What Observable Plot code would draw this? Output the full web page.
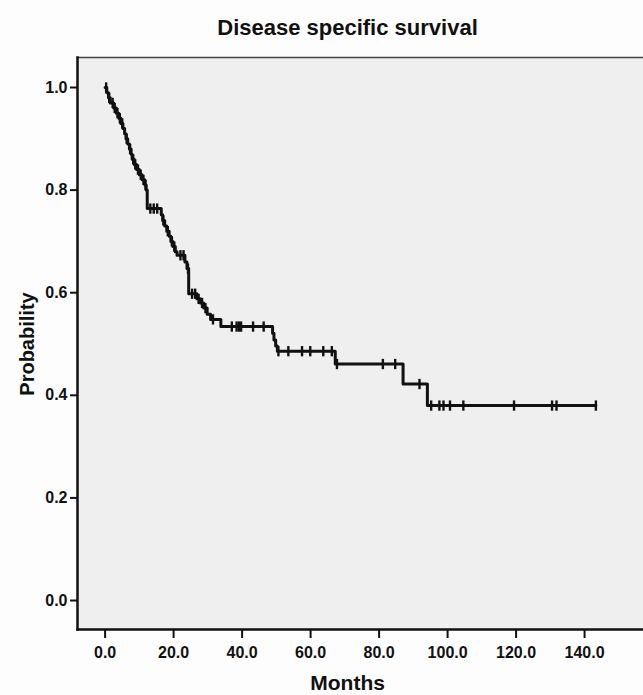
<!DOCTYPE html>
<html>
<head>
<meta charset="utf-8">
<script src="https://cdn.jsdelivr.net/npm/d3@7"></script>
<script src="https://cdn.jsdelivr.net/npm/@observablehq/plot@0.6"></script>
<style>
  html, body { margin: 0; padding: 0; background: #fdfdfd; }
  #title { height: 50px; width: 591px; padding-left: 52px; text-align: center; font-family: "Liberation Sans", Arial, sans-serif; font-weight: bold; font-size: 22px; line-height: 56px; color: #111; }
  #chart svg { display: block; }
</style>
</head>
<body>
<div id="title">Disease specific survival</div>
<div id="chart"></div>
<script>
// Kaplan-Meier event steps: time (months) and survival after the step
const stepTimes = [0, 0.5, 1.0, 1.5, 2.5, 3.3, 4.0, 4.6, 5.2, 5.7, 6.1, 6.6, 7.1, 7.6, 7.9, 8.5, 9.2, 10.0, 10.8, 11.6, 12.0, 12.3,
  16.4, 16.8, 17.4, 18.0, 18.7, 19.2, 19.8, 20.5, 21.0, 23.3, 23.9, 24.4, 26.8, 27.8, 28.8, 29.8, 30.8, 33.8,
  48.9, 49.3, 49.8, 50.3, 67.2, 87.0, 94.1];
const stepSurv = [1.0, 0.99, 0.98, 0.97, 0.96, 0.95, 0.94, 0.93, 0.92, 0.91, 0.90, 0.89, 0.88, 0.87, 0.86, 0.85, 0.84, 0.83, 0.82, 0.81, 0.80, 0.764,
  0.752, 0.741, 0.730, 0.720, 0.710, 0.700, 0.690, 0.680, 0.673, 0.660, 0.647, 0.598, 0.588, 0.580, 0.570, 0.558, 0.548, 0.534,
  0.521, 0.508, 0.496, 0.486, 0.461, 0.422, 0.380];
const lastTime = 143.3;
// Censored observations (months)
const censorTimes = [0.3, 1.2, 2.2, 2.8, 3.6, 4.3, 5.0, 6.3, 7.3, 8.2, 8.8, 9.6, 10.4, 11.2, 11.8,
  13.2, 14.2, 15.2, 17.0, 18.3, 19.5, 20.2, 22.0, 22.9, 24.2, 25.4, 26.3, 27.3, 28.3, 29.3, 31.5,
  37.0, 38.4, 39.1, 39.7, 43.2, 46.3, 50.6, 53.5, 57.5, 59.9, 63.7, 66.2, 67.7, 81.1, 84.7, 91.8,
  95.2, 97.6, 98.8, 100.7, 104.6, 119.4, 130.5, 131.8, 143.3];
const xTicks = [0, 20, 40, 60, 80, 100, 120, 140];
const yTicks = [0, 0.2, 0.4, 0.6, 0.8, 1.0];

const curve = stepTimes.map((t, i) => ({t, s: stepSurv[i]}));
curve.push({t: lastTime, s: stepSurv[stepSurv.length - 1]});
const survAt = (t) => { let s = 1; for (let i = 0; i < stepTimes.length; i++) if (stepTimes[i] <= t) s = stepSurv[i]; return s; };
const censors = censorTimes.map(t => ({t, s: survAt(t)}));

const vbar = { draw(context, size) { const h = Math.sqrt(size); context.moveTo(0, -h); context.lineTo(0, h); } };

const fmt = d3.format(".1f");
const plot = Plot.plot({
  width: 643,
  height: 645,
  marginLeft: 77,
  marginRight: 0,
  marginTop: 7,
  marginBottom: 66,
  style: { fontFamily: "'Liberation Sans', Arial, sans-serif", fontWeight: "bold", fontSize: "16px", color: "#111", background: "transparent" },
  x: { domain: [-8.06, 157.2], ticks: xTicks, tickFormat: fmt, label: null },
  y: { domain: [-0.0565, 1.0585], ticks: yTicks, tickFormat: fmt, label: null },
  marks: [
    Plot.frame({ fill: "#efefef", stroke: null }),
    Plot.frame({ anchor: "top", stroke: "#444", strokeWidth: 1.5 }),
    Plot.frame({ anchor: "left", stroke: "#111", strokeWidth: 2.5 }),
    Plot.frame({ anchor: "bottom", stroke: "#111", strokeWidth: 2.5 }),
    Plot.axisX({ ticks: xTicks, tickFormat: fmt, tickSize: 9, tickPadding: 8, strokeWidth: 2, stroke: "#111", fontSize: 16, label: null }),
    Plot.axisY({ ticks: yTicks, tickFormat: fmt, tickSize: 7, tickPadding: 3, strokeWidth: 2, stroke: "#111", fontSize: 16, label: null }),
    Plot.line(curve, { x: "t", y: "s", curve: "step-after", stroke: "#111", strokeWidth: 3 }),
    Plot.dot(censors, { x: "t", y: "s", symbol: vbar, r: 2.9, stroke: "#111", strokeWidth: 2.4, fill: "none" }),
    Plot.text(["Months"], { frameAnchor: "bottom", x: 70.8, dy: 54, text: d => d, fontSize: 21, fontWeight: "bold", lineAnchor: "middle", textAnchor: "middle" }),
    Plot.text(["Probability"], { frameAnchor: "left", dx: -50, rotate: -90, y: 0.5, text: d => d, fontSize: 20, fontWeight: "bold", lineAnchor: "middle", textAnchor: "middle" })
  ]
});
document.getElementById("chart").appendChild(plot);
</script>
</body>
</html>
